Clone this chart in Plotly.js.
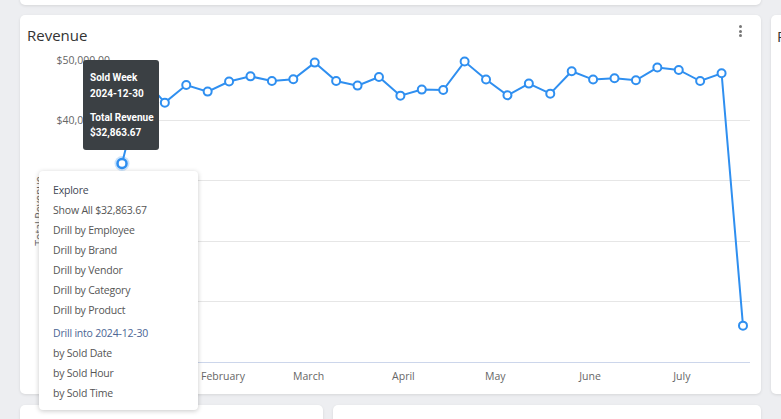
<!DOCTYPE html>
<html>
<head>
<meta charset="utf-8">
<script src="https://cdn.plot.ly/plotly-3.0.1.min.js"></script>
<style>
  html, body { margin:0; padding:0; width:781px; height:419px; overflow:hidden; background:#edeef1; font-family:"Open Sans", sans-serif; }
  .card { position:absolute; background:#fff; border-radius:5px; box-shadow:0 1px 3px rgba(0,0,0,0.10); }
  #chart { position:absolute; left:0; top:0; width:781px; height:419px; }
  .title { position:absolute; left:27px; top:25px; font-size:15px; color:#333; }
  .dots { position:absolute; left:739px; top:25px; width:4px; }
  .dots span { display:block; width:3px; height:3px; border-radius:50%; background:#777; margin-bottom:1.5px; }
  #tip { position:absolute; left:83px; top:60px; width:76px; height:90px; background:#3b4044; border-radius:3px; color:#fff; font-family:Roboto, sans-serif; font-weight:700; font-size:10px; }
  #tip div { position:absolute; left:7px; white-space:nowrap; }
  #menu { position:absolute; left:39px; top:171px; width:159px; height:239px; background:#fff; border-radius:4px; box-shadow:0 1px 5px rgba(0,0,0,0.22); font-size:10.5px; letter-spacing:-0.2px; color:#555; }
  #menu div { position:absolute; left:14px; white-space:nowrap; line-height:14px; }
</style>
</head>
<body>
<div class="card" style="left:20px; top:-20px; width:741px; height:25px;"></div>
<div class="card" style="left:771px; top:15px; width:40px; height:379px;"></div>
<div class="card" style="left:20px; top:15px; width:741px; height:379px;"></div>
<div class="card" style="left:20px; top:405px; width:303px; height:40px;"></div>
<div class="card" style="left:333px; top:405px; width:428px; height:40px;"></div>
<div style="position:absolute; left:777px; top:26px; font-size:15px; color:#333;">R</div>
<div class="title">Revenue</div>
<div class="dots"><span></span><span></span><span></span></div>
<div id="chart"></div>
<div id="tip"></div>
<div id="menu"></div>
<script>
// ---- data ----
const weeks = [
  "2024-12-30","2025-01-06","2025-01-13","2025-01-20","2025-01-27",
  "2025-02-03","2025-02-10","2025-02-17","2025-02-24","2025-03-03",
  "2025-03-10","2025-03-17","2025-03-24","2025-03-31","2025-04-07",
  "2025-04-14","2025-04-21","2025-04-28","2025-05-05","2025-05-12",
  "2025-05-19","2025-05-26","2025-06-02","2025-06-09","2025-06-16",
  "2025-06-23","2025-06-30","2025-07-07","2025-07-14","2025-07-21"
];
const revenue = [
  32863.67, 47000, 42940, 45860, 44770,
  46440, 47290, 46520, 46800, 49570,
  46520, 45760, 47190, 44100, 45100,
  45030, 49740, 46760, 44150, 46090,
  44430, 48130, 46760, 46970, 46640,
  48750, 48350, 46520, 47800, 6020
];
const yTicks = [0, 10000, 20000, 30000, 40000, 50000];
const xTitle = "Sold Week";
const yTitle = "Total Revenue";
const menuItems = ["Explore", "Show All $32,863.67", "Drill by Employee", "Drill by Brand",
  "Drill by Vendor", "Drill by Category", "Drill by Product", "Drill into 2024-12-30",
  "by Sold Date", "by Sold Hour", "by Sold Time"];
const selected = 0;

const blue = "#2f8ff0";
const traces = [
  { x: weeks, y: revenue, type: "scatter", mode: "lines+markers",
    line: { color: blue, width: 2 },
    marker: { size: 8, color: "#fff", line: { color: blue, width: 2 } },
    hoverinfo: "skip", cliponaxis: false },
  { x: [weeks[selected]], y: [revenue[selected]], type: "scatter", mode: "markers",
    marker: { size: 15, color: "rgba(47,143,240,0.25)" }, hoverinfo: "skip", cliponaxis: false },
  { x: [weeks[selected]], y: [revenue[selected]], type: "scatter", mode: "markers",
    marker: { size: 9, color: "#fff", line: { color: blue, width: 2.5 } }, hoverinfo: "skip", cliponaxis: false }
];

const layout = {
  width: 781, height: 419,
  margin: { l: 115, r: 31, t: 60, b: 57 },
  paper_bgcolor: "rgba(0,0,0,0)", plot_bgcolor: "rgba(0,0,0,0)",
  showlegend: false,
  font: { family: "Open Sans, sans-serif", size: 10.5, color: "#666" },
  xaxis: {
    type: "date",
    range: ["2024-12-27 17:00", "2025-07-23 07:00"],
    dtick: "M1", tick0: "2025-01-01", tickformat: "%B",
    showgrid: false, zeroline: false,
    showline: true, linecolor: "#ccd6eb", linewidth: 1,
    ticks: "", ticklabelstandoff: 4, tickfont: { size: 10.5, color: "#666" }
  },
  yaxis: {
    range: [0, 50000], tickvals: yTicks, tickformat: "$,.2f",
    showgrid: true, gridcolor: "#e6e6e6", gridwidth: 1,
    zeroline: false, showline: false, ticks: "", ticklabelstandoff: 4,
    tickfont: { size: 10.5, color: "#666" },
    title: { text: yTitle, font: { size: 10.5, color: "#666" }, standoff: 10 }
  }
};
Plotly.newPlot("chart", traces, layout, { staticPlot: true, displayModeBar: false });

// tooltip
const fmt = v => "$" + v.toLocaleString("en-US", { minimumFractionDigits: 2, maximumFractionDigits: 2 });
const tipLines = [[xTitle, 12], [weeks[selected], 28], [yTitle, 52], [fmt(revenue[selected]), 67]];
const tip = document.getElementById("tip");
tipLines.forEach(([t, top]) => { const d = document.createElement("div"); d.textContent = t; d.style.top = top + "px"; tip.appendChild(d); });

// menu
const menuTops = [12, 32, 52, 72, 92, 112, 132, 155, 175, 195, 215];
const menu = document.getElementById("menu");
menuItems.forEach((t, i) => {
  const d = document.createElement("div"); d.textContent = t; d.style.top = menuTops[i] + "px";
  if (i === 0) d.style.color = "#3f4756";
  if (i === 7) d.style.color = "#4c6594";
  menu.appendChild(d);
});
</script>
</body>
</html>
